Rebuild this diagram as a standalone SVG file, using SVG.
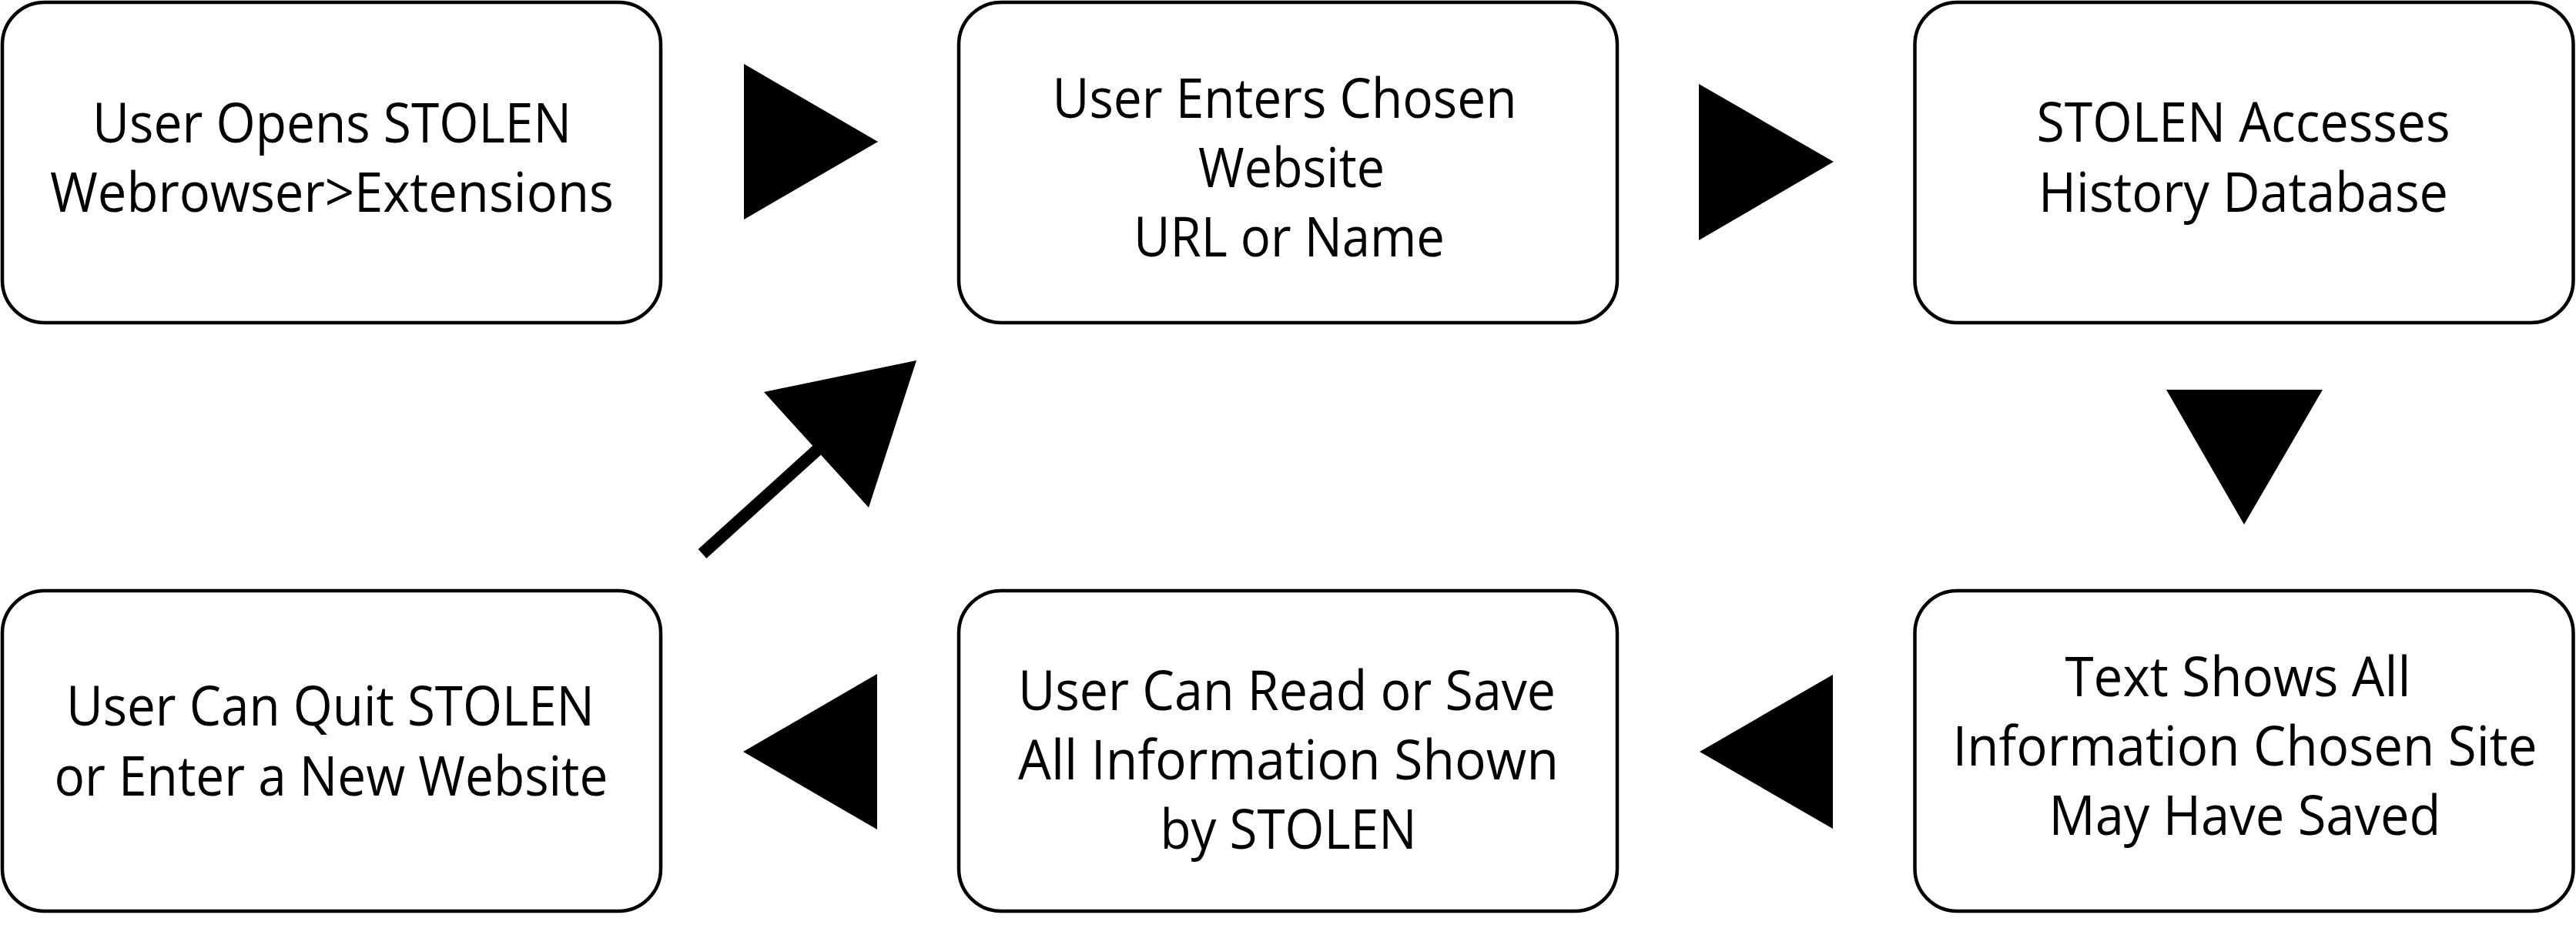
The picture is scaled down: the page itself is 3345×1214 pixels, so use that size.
<svg xmlns="http://www.w3.org/2000/svg" width="3345" height="1214" viewBox="0 0 3345 1214">
<style>
.box{fill:#fff;stroke:#000;stroke-width:4.5}
.t{font-family:"Open Sans","Noto Sans",sans-serif;font-size:71px;fill:#000;text-anchor:middle}
.tri{fill:#000}
</style>
<rect width="3345" height="1214" fill="#fff"/>
<g id="n1">
<rect class="box" x="3" y="3" width="855" height="416" rx="55"/>
<text class="t" x="431" y="185" textLength="622" lengthAdjust="spacingAndGlyphs">User Opens STOLEN</text>
<text class="t" x="431" y="275" textLength="732" lengthAdjust="spacingAndGlyphs">Webrowser&gt;Extensions</text>
</g>
<g id="n2">
<rect class="box" x="1245" y="3" width="855" height="416" rx="55"/>
<text class="t" x="1668" y="153" textLength="603" lengthAdjust="spacingAndGlyphs">User Enters Chosen</text>
<text class="t" x="1677" y="243" textLength="242" lengthAdjust="spacingAndGlyphs">Website</text>
<text class="t" x="1674" y="333" textLength="404" lengthAdjust="spacingAndGlyphs">URL or Name</text>
</g>
<g id="n3">
<rect class="box" x="2486.5" y="3" width="855" height="416" rx="55"/>
<text class="t" x="2913" y="184" textLength="537" lengthAdjust="spacingAndGlyphs">STOLEN Accesses</text>
<text class="t" x="2913" y="275" textLength="532" lengthAdjust="spacingAndGlyphs">History Database</text>
</g>
<g id="n4">
<rect class="box" x="3" y="767" width="855" height="416" rx="55"/>
<text class="t" x="429" y="942" textLength="686" lengthAdjust="spacingAndGlyphs">User Can Quit STOLEN</text>
<text class="t" x="430" y="1033" textLength="719" lengthAdjust="spacingAndGlyphs">or Enter a New Website</text>
</g>
<g id="n5">
<rect class="box" x="1245" y="767" width="855" height="416" rx="55"/>
<text class="t" x="1671" y="922" textLength="698" lengthAdjust="spacingAndGlyphs">User Can Read or Save</text>
<text class="t" x="1673" y="1012" textLength="702" lengthAdjust="spacingAndGlyphs">All Information Shown</text>
<text class="t" x="1673" y="1102" textLength="333" lengthAdjust="spacingAndGlyphs">by STOLEN</text>
</g>
<g id="n6">
<rect class="box" x="2486.5" y="767" width="855" height="416" rx="55"/>
<text class="t" x="2906" y="904" textLength="449" lengthAdjust="spacingAndGlyphs">Text Shows All</text>
<text class="t" x="2915" y="994" textLength="759" lengthAdjust="spacingAndGlyphs">Information Chosen Site</text>
<text class="t" x="2915" y="1084" textLength="509" lengthAdjust="spacingAndGlyphs">May Have Saved</text>
</g>
<g id="connectors">
<polygon class="tri" points="966,83 966,285 1140,184"/>
<polygon class="tri" points="2206,109 2206,312 2381,210"/>
<polygon class="tri" points="2813,506 3016,506 2914,681"/>
<polygon class="tri" points="2380,876 2380,1076 2207,976"/>
<polygon class="tri" points="1139,875 1139,1077 965,976"/>
<line x1="912" y1="719" x2="1068" y2="578" stroke="#000" stroke-width="16"/>
<polygon class="tri" points="1190,468 1128,659 992,509"/>
</g>
</svg>
